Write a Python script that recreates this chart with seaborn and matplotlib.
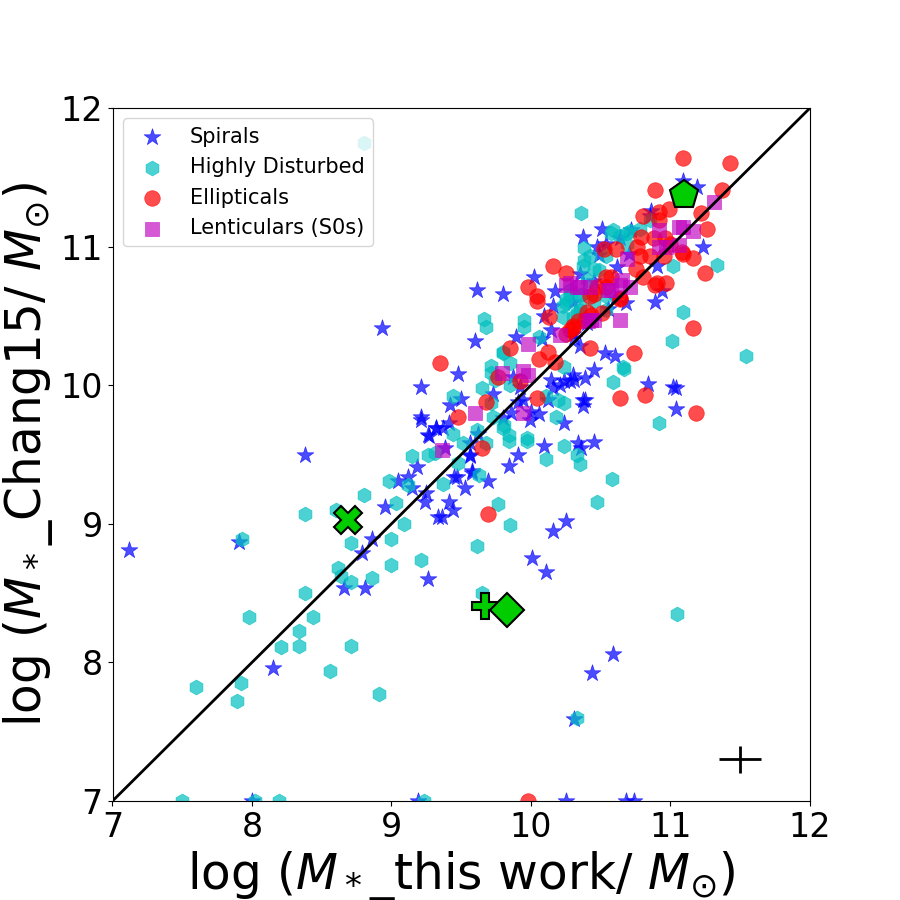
import numpy as np
import pandas as pd
import seaborn as sns
import matplotlib.pyplot as plt

# Spirals
sp_x = [7.12, 7.91, 8.38, 8.15, 8.66, 8.81, 8.79, 8.86, 8.95, 9.05, 9.12, 9.15, 9.18, 9.25, 9.24, 9.26, 9.33,
        9.27, 9.32, 9.21, 8.00, 9.19,
        10.09, 9.91, 9.84, 10.36, 10.45, 9.56, 9.58, 9.69, 9.53, 9.45, 9.41, 9.44, 9.36, 10.25, 10.16, 10.01,
        10.11, 10.59, 10.44, 10.31, 10.25, 10.68, 10.74,
        8.93, 9.61, 9.80, 10.02, 9.60, 9.89, 9.48, 9.21, 9.21, 9.42, 9.50, 9.32, 9.26, 9.41, 9.38, 9.56, 9.56,
        9.47, 9.58, 10.24, 10.39, 10.37, 10.45, 10.53, 10.60, 10.30, 10.24, 10.14, 10.16, 10.21, 10.06, 10.00,
        10.12, 9.91, 10.31, 10.35, 10.16, 10.17, 10.35, 10.09, 10.08, 9.92,
        10.51, 10.37, 11.23, 11.19, 10.89, 10.94, 10.64, 10.72, 10.85, 10.49, 11.09, 10.54, 10.60,
        10.84, 11.02, 11.04, 11.04, 10.45, 10.62, 10.70, 10.55, 10.30, 10.40,
        10.28, 10.31, 10.39, 10.37, 9.86, 9.80, 9.73, 9.37, 9.62, 10.34, 10.14, 10.30, 9.99, 9.94, 9.87,
        10.86, 10.47, 10.90, 10.68]
sp_y = [8.81, 8.87, 9.50, 7.96, 8.54, 8.54, 8.79, 8.89, 9.12, 9.31, 9.34, 9.26, 9.41, 9.22, 9.16, 8.60, 9.05,
        9.63, 9.69, 9.75, 7.00, 7.00,
        9.56, 9.50, 9.42, 9.55, 9.59, 9.50, 9.37, 9.31, 9.26, 9.34, 9.16, 9.10, 9.05, 9.02, 8.95, 8.75,
        8.65, 8.06, 7.92, 7.59, 7.00, 7.00, 7.00,
        10.41, 10.69, 10.66, 10.78, 10.32, 10.35, 10.08, 9.99, 9.77, 9.86, 9.90, 9.69, 9.64, 9.73, 9.55, 9.49, 9.58,
        9.34, 9.38, 9.73, 9.89, 9.85, 10.11, 10.23, 10.21, 10.07, 10.03, 10.04, 9.98, 10.00, 9.79, 9.81,
        9.89, 9.88, 10.34, 10.28, 10.57, 10.68, 10.80, 10.50, 10.33, 9.99,
        11.13, 11.07, 11.00, 11.43, 10.60, 10.68, 11.06, 11.12, 11.22, 10.94, 11.47, 11.02, 10.62,
        10.01, 9.99, 9.98, 9.83, 10.75, 10.85, 10.95, 10.55, 10.60, 10.45,
        10.03, 10.04, 10.05, 9.89, 9.80, 9.76, 9.94, 9.69, 9.65, 9.58, 10.40, 10.37, 9.75, 9.89, 10.06,
        11.26, 11.00, 10.86, 10.59]

# Highly Disturbed
hd_x = [7.60, 7.92, 7.89, 7.98, 8.38, 8.34, 8.34, 8.21, 8.44, 8.56, 8.71, 8.91, 8.38, 8.60, 8.71, 8.62, 8.64,
        8.71, 8.86, 8.80, 8.98, 9.03, 9.09, 9.00, 9.00, 9.21, 9.15, 9.26, 9.12, 7.93, 7.50, 8.19, 8.02, 9.23,
        10.24, 10.11, 10.35, 10.33, 10.58, 10.47, 9.76, 9.85, 9.61, 9.65, 11.05, 9.97, 9.84, 9.63, 9.37, 10.33,
        9.66, 9.68, 9.95, 9.95, 9.80, 9.71, 9.65, 9.74, 9.85, 9.44, 9.31, 9.48, 9.68, 9.73, 9.81, 9.84, 9.97,
        10.18, 10.24, 10.59, 10.25, 10.37, 10.49, 9.61, 9.51, 9.44, 9.71,
        10.36, 10.38, 10.38, 11.33, 11.09, 11.01, 11.54, 11.02, 10.67, 10.59, 10.69, 10.45, 10.28, 10.35, 10.23,
        10.54, 10.33, 10.57, 10.66, 9.80, 10.06, 10.37, 10.42, 10.92, 8.80,
        9.85, 9.80, 10.19, 10.24, 10.35, 10.11, 9.71, 10.64, 10.71, 10.78, 10.69, 10.54, 10.40, 10.28, 10.35,
        10.25, 10.45, 10.54, 10.23, 10.30, 10.85]
hd_y = [7.82, 7.85, 7.72, 8.33, 8.50, 8.23, 8.12, 8.11, 8.33, 7.94, 8.12, 7.77, 9.07, 9.10, 8.86, 8.68, 8.62,
        8.58, 8.61, 9.21, 9.31, 9.15, 9.00, 8.89, 8.70, 8.74, 9.49, 9.50, 9.28, 8.89, 7.00, 7.00, 7.00, 7.00,
        9.56, 9.47, 9.43, 9.50, 9.32, 9.16, 9.14, 8.99, 8.84, 8.50, 8.35, 9.60, 9.60, 9.35, 9.29, 7.60,
        10.48, 10.42, 10.47, 10.42, 10.24, 10.14, 9.98, 10.04, 10.00, 9.92, 9.51, 9.44, 9.58, 9.77, 9.71, 9.64, 9.62,
        9.77, 9.87, 10.02, 10.62, 10.86, 10.83, 9.68, 9.58, 9.65, 9.87,
        11.24, 10.99, 10.90, 10.87, 10.53, 10.32, 10.21, 10.86, 10.12, 11.12, 11.10, 10.84, 10.64, 10.57, 10.57,
        10.64, 10.52, 11.10, 10.13, 10.23, 10.35, 10.66, 10.93, 9.73, 11.75,
        10.16, 9.69, 9.89, 10.13, 10.54, 9.92, 10.09, 11.08, 11.11, 11.13, 11.02, 10.93, 10.76, 10.69, 10.65,
        10.59, 10.61, 10.54, 10.49, 10.49, 11.19]

# Ellipticals
el_x = [9.65, 9.69, 9.98,
        9.35, 9.98, 10.04, 10.16, 10.25, 9.85, 10.06, 10.17, 9.76, 9.92, 10.04, 9.68, 9.48, 10.13, 10.42, 10.40,
        10.51, 10.30, 10.25, 10.64,
        10.89, 11.37, 10.80, 10.92, 10.99, 11.22, 11.26, 11.16, 11.25, 11.16, 10.74, 11.08, 10.95, 10.90, 10.80,
        10.85, 10.79, 10.88, 10.52, 10.61, 10.54, 10.47, 10.64, 10.43, 10.39, 10.75, 10.96, 10.76,
        11.09, 11.43, 10.42, 10.64, 10.28, 10.34, 10.12, 10.82, 11.18,
        10.04, 10.78, 10.57, 10.54, 10.45, 10.97, 10.89, 10.30, 10.92, 11.09, 11.00]
el_y = [9.55, 9.07, 7.00,
        10.16, 10.71, 10.64, 10.86, 10.81, 10.27, 10.19, 10.17, 10.06, 10.03, 9.91, 9.88, 9.77, 10.49, 10.27, 10.53,
        10.52, 10.41, 10.37, 9.91,
        11.41, 11.41, 11.22, 11.25, 11.27, 11.24, 11.13, 10.92, 10.81, 10.41, 10.23, 10.96, 10.93, 10.74, 10.78,
        10.93, 11.07, 11.06, 10.98, 10.98, 10.78, 10.71, 10.63, 10.51, 10.47, 10.84, 11.06, 11.00,
        11.64, 11.60, 10.64, 10.62, 10.40, 10.46, 10.24, 9.93, 9.80,
        10.61, 10.93, 10.78, 10.71, 10.66, 10.74, 10.72, 10.43, 11.19, 10.95, 11.02]

# Lenticulars (S0s)
s0_x = [9.98, 10.21, 9.79, 9.94, 9.98, 9.94, 9.60, 9.36, 10.25, 10.35, 10.42, 10.57, 10.45,
        11.31, 11.16, 11.06, 10.92, 10.92, 11.06, 10.69, 10.65, 10.71, 10.55, 10.33, 10.64, 10.43,
        10.41, 10.97, 10.64, 10.28, 11.09]
s0_y = [10.30, 10.36, 10.09, 10.10, 10.07, 9.80, 9.80, 9.53, 10.72, 10.71, 10.71, 10.69, 10.47,
        11.32, 11.11, 11.14, 11.12, 11.00, 11.01, 10.91, 10.76, 10.71, 10.69, 10.71, 10.47, 10.47,
        10.46, 11.00, 10.72, 10.74, 11.14]

# highlighted galaxies
hl_x = [8.69, 9.67, 9.83, 11.10]
hl_y = [9.03, 8.41, 8.38, 11.37]
hl_markers = ['X', 'P', 'D', 'p']
hl_sizes = [20, 19, 17, 21]

sns.set_style("ticks")
plt.rcParams['font.family'] = ['DejaVu Sans']
plt.rcParams.update({'text.color': 'black', 'axes.labelcolor': 'black', 'axes.edgecolor': 'black',
                     'xtick.color': 'black', 'ytick.color': 'black'})

fig, ax = plt.subplots(figsize=(9, 9), dpi=100)

groups = [
    ("Spirals", sp_x, sp_y, '*', 'blue', 160, 0.7),
    ("Highly Disturbed", hd_x, hd_y, 'h', 'c', 115, 0.7),
    ("Ellipticals", el_x, el_y, 'o', 'red', 125, 0.7),
    ("Lenticulars (S0s)", s0_x, s0_y, 's', 'm', 115, 0.65),
]
for name, xs, ys, mk, col, size, a in groups:
    df = pd.DataFrame({"x": xs, "y": ys})
    sns.scatterplot(data=df, x="x", y="y", marker=mk, color=col, s=size, alpha=a,
                    edgecolor=col, linewidth=0.5, label=name, ax=ax)

for xv, yv, mk, ms in zip(hl_x, hl_y, hl_markers, hl_sizes):
    ax.plot(xv, yv, marker=mk, markersize=ms, color='#00cc00', markeredgecolor='k',
            markeredgewidth=1.5, linestyle='none', zorder=5)

ax.plot([7, 12], [7, 12], color='k', lw=2, zorder=1)
ax.errorbar(11.5, 7.3, xerr=0.15, yerr=0.1, color='k', lw=2)

ax.set_xlim(7, 12)
ax.set_ylim(7, 12)
ax.set_xticks([7, 8, 9, 10, 11, 12])
ax.set_yticks([7, 8, 9, 10, 11, 12])
ax.tick_params(labelsize=24)
ax.set_xlabel(r'log ($M_*$_this work/ $M_{\odot}$)', fontsize=35)
ax.set_ylabel(r'log ($M_*$_Chang15/ $M_{\odot}$)', fontsize=35)
ax.legend(loc='upper left', fontsize=15)

plt.savefig("out.png", dpi=100)
